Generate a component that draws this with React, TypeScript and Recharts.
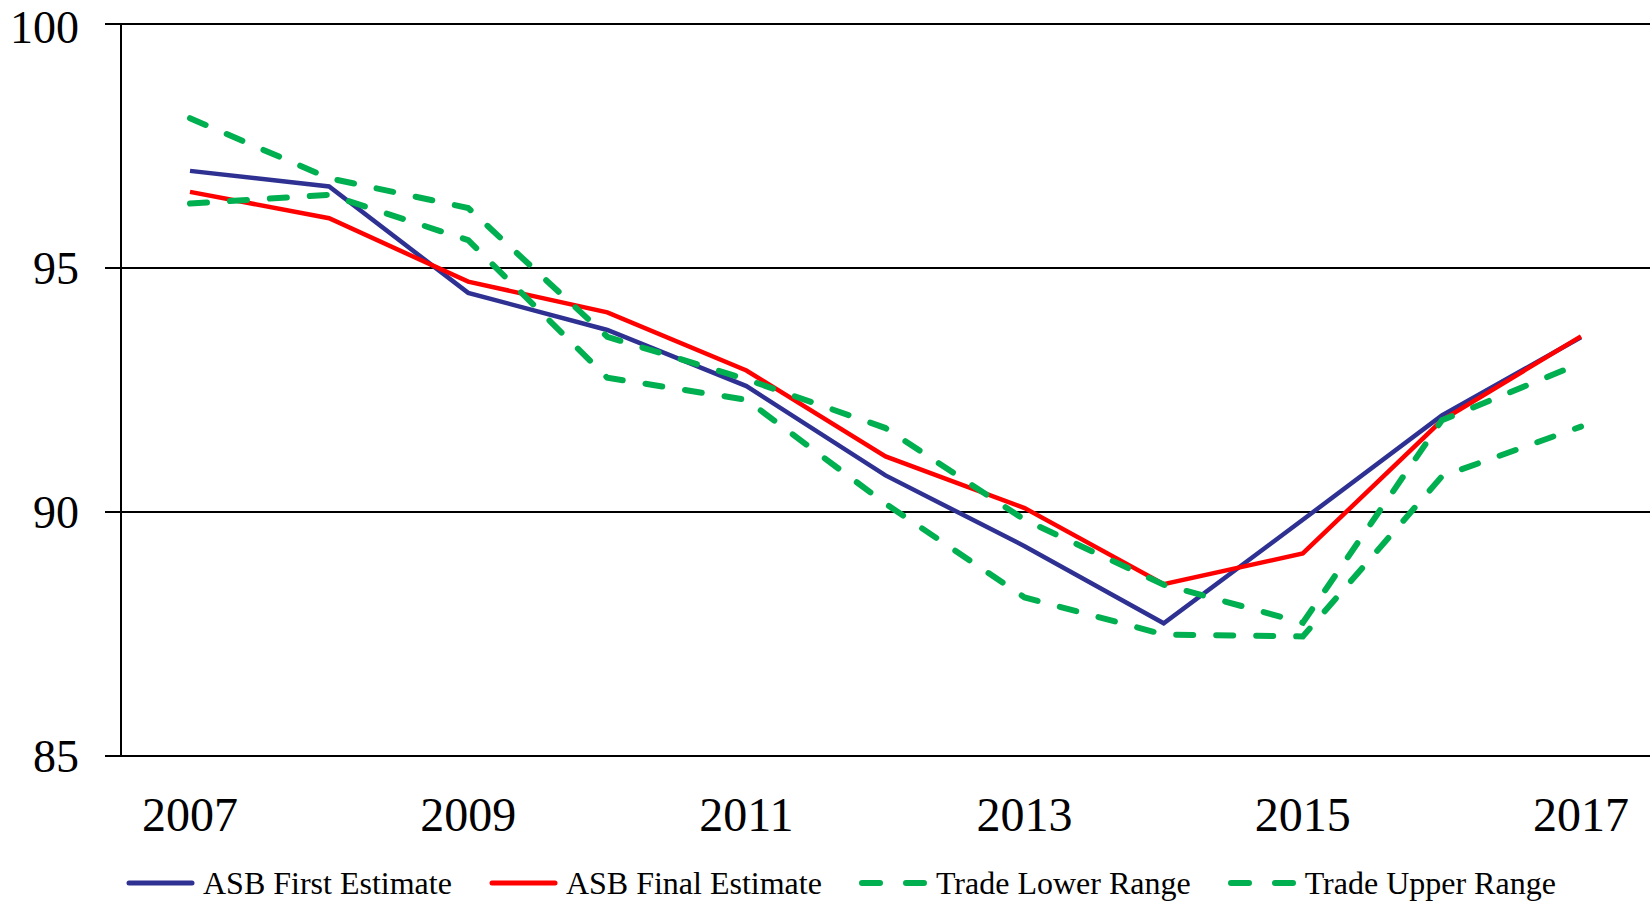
import {
  CartesianGrid,
  Legend,
  Line,
  LineChart,
  XAxis,
  YAxis,
} from "recharts";

const years = [
  "2007", "2008", "2009", "2010", "2011", "2012",
  "2013", "2014", "2015", "2016", "2017",
];
const asbFirst = [96.99, 96.67, 94.49, 93.73, 92.58, 90.75, 89.3, 87.72, 89.84, 91.98, 93.58];
const asbFinal = [96.56, 96.02, 94.72, 94.09, 92.9, 91.14, 90.08, 88.52, 89.15, 91.88, 93.6];
const tradeLower = [96.32, 96.5, 95.57, 92.75, 92.3, 90.17, 88.25, 87.49, 87.45, 90.73, 91.75];
const tradeUpper = [98.07, 96.84, 96.23, 93.59, 92.72, 91.72, 89.84, 88.51, 87.73, 91.88, 93.05];
const yTicks = [85, 90, 95, 100];

const FONT = '"Liberation Serif", "Times New Roman", serif';

const series = [
  { key: "asbFirst", name: "ASB First Estimate", color: "#2E3192", dashed: false },
  { key: "asbFinal", name: "ASB Final Estimate", color: "#FF0000", dashed: false },
  { key: "tradeLower", name: "Trade Lower Range", color: "#00B050", dashed: true },
  { key: "tradeUpper", name: "Trade Upper Range", color: "#00B050", dashed: true },
];

function ChartLegend() {
  return (
    <div
      style={{
        display: "flex",
        alignItems: "center",
        height: 38,
        paddingLeft: 126,
        fontFamily: FONT,
        fontSize: 32,
        color: "#000",
        whiteSpace: "nowrap",
      }}
    >
      {series.map((s) => (
        <div key={s.key} style={{ display: "flex", alignItems: "center", marginRight: 37 }}>
          <svg width={69} height={10} style={{ marginRight: 8 }}>
            <line
              x1={3}
              y1={5}
              x2={66}
              y2={5}
              stroke={s.color}
              strokeWidth={s.dashed ? 6 : 5}
              strokeLinecap="round"
              strokeDasharray={s.dashed ? "18 26" : undefined}
            />
          </svg>
          <span>{s.name}</span>
        </div>
      ))}
    </div>
  );
}

export default function App() {
  const data = years.map((year, i) => ({
    year,
    asbFirst: asbFirst[i],
    asbFinal: asbFinal[i],
    tradeLower: tradeLower[i],
    tradeUpper: tradeUpper[i],
  }));

  return (
    <div style={{ position: "absolute", left: 0, top: 0, background: "#fff" }}>
      <LineChart
        width={1652}
        height={902}
        data={data}
        margin={{ top: 24, right: 2, left: 0, bottom: 0 }}
      >
        <CartesianGrid vertical={false} stroke="#000" strokeWidth={2} />
        <XAxis
          dataKey="year"
          interval={1}
          padding={{ left: 69, right: 69 }}
          height={108}
          tickLine={false}
          tickMargin={35}
          axisLine={{ stroke: "#000", strokeWidth: 2 }}
          tick={{ fill: "#000", fontSize: 48, fontFamily: FONT }}
        />
        <YAxis
          domain={[85, 100]}
          ticks={yTicks}
          width={121}
          tickSize={16}
          tickMargin={26}
          axisLine={{ stroke: "#000", strokeWidth: 2 }}
          tickLine={{ stroke: "#000", strokeWidth: 2 }}
          tick={{ fill: "#000", fontSize: 46, fontFamily: FONT }}
        />
        <YAxis
          yAxisId="frame"
          orientation="right"
          domain={[85, 100]}
          width={0}
          tick={false}
          tickLine={false}
          axisLine={{ stroke: "#000", strokeWidth: 1.5 }}
        />
        <Legend
          verticalAlign="bottom"
          align="left"
          height={38}
          content={() => <ChartLegend />}
        />
        {series.map((s) => (
          <Line
            key={s.key}
            type="linear"
            dataKey={s.key}
            name={s.name}
            stroke={s.color}
            strokeWidth={s.dashed ? 6 : 4.5}
            strokeDasharray={s.dashed ? "17 23" : undefined}
            strokeLinecap={s.dashed ? "round" : "butt"}
            dot={false}
            activeDot={false}
            isAnimationActive={false}
          />
        ))}
      </LineChart>
    </div>
  );
}
